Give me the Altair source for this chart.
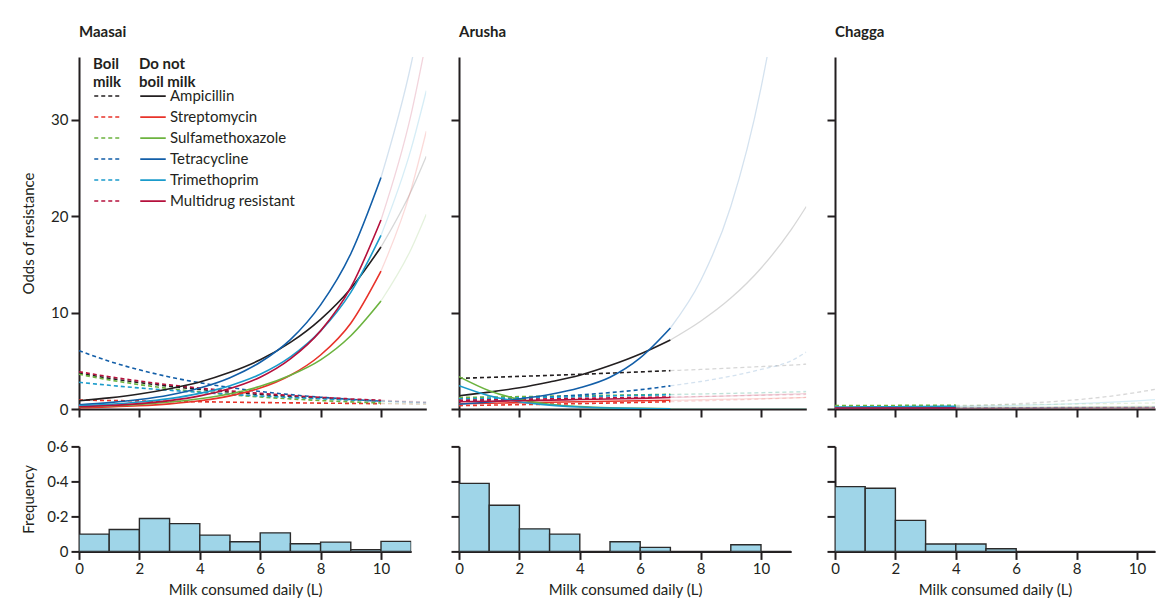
import altair as alt
import pandas as pd

# ---------------- data ----------------
DRUGS = ["Ampicillin", "Streptomycin", "Sulfamethoxazole", "Tetracycline",
         "Trimethoprim", "Multidrug resistant"]
COLORS = ["#231f20", "#e8332a", "#6cb33f", "#125ea8", "#1a9bcb", "#b5103c"]

# x positions (L of milk per day) at which the curves were read
X_GRID = [0, 1, 2, 3, 4, 5, 6, 7, 8, 9, 10, 11, 11.5]

# last observed consumption per group (beyond it curves are faded)
OBS_END = {"Maasai": 10, "Arusha": 7, "Chagga": 4}

# odds of resistance, "Do not boil milk" (solid)
MAASAI_NOBOIL = {
    "Ampicillin":          [0.86, 1.15, 1.55, 2.1, 2.8, 3.8, 5.1, 6.9, 9.3, 12.5, 16.8, 22.6, 26.2],
    "Streptomycin":        [0.13, 0.21, 0.33, 0.53, 0.85, 1.36, 2.17, 3.5, 5.6, 8.9, 14.3, 22.8, 28.8],
    "Sulfamethoxazole":    [0.22, 0.33, 0.48, 0.72, 1.07, 1.58, 2.35, 3.5, 5.1, 7.6, 11.2, 16.6, 20.2],
    "Tetracycline":        [0.44, 0.66, 0.98, 1.46, 2.18, 3.25, 4.85, 7.2, 10.8, 16.1, 24.0, 35.8, 43.7],
    "Trimethoprim":        [0.32, 0.48, 0.72, 1.08, 1.62, 2.42, 3.6, 5.4, 8.1, 12.1, 18.0, 27.0, 33.0],
    "Multidrug resistant": [0.23, 0.36, 0.56, 0.87, 1.36, 2.12, 3.3, 5.2, 8.1, 12.6, 19.6, 30.6, 38.2],
}
# odds of resistance, "Boil milk" (dashed)
MAASAI_BOIL = {
    "Ampicillin":          [3.7, 3.19, 2.74, 2.36, 2.03, 1.75, 1.5, 1.3, 1.12, 0.96, 0.83, 0.71, 0.66],
    "Streptomycin":        [0.93, 0.88, 0.84, 0.79, 0.75, 0.71, 0.67, 0.64, 0.61, 0.58, 0.55, 0.52, 0.5],
    "Sulfamethoxazole":    [3.6, 3.02, 2.53, 2.12, 1.78, 1.49, 1.25, 1.05, 0.88, 0.74, 0.62, 0.52, 0.48],
    "Tetracycline":        [6.05, 4.95, 4.06, 3.32, 2.72, 2.23, 1.82, 1.49, 1.22, 1.0, 0.82, 0.67, 0.61],
    "Trimethoprim":        [2.77, 2.46, 2.18, 1.94, 1.72, 1.52, 1.35, 1.2, 1.06, 0.94, 0.84, 0.74, 0.7],
    "Multidrug resistant": [3.87, 3.35, 2.9, 2.5, 2.17, 1.88, 1.62, 1.4, 1.21, 1.05, 0.91, 0.79, 0.73],
}
ARUSHA_NOBOIL = {
    "Ampicillin":          [1.38, 1.75, 2.2, 2.8, 3.5, 4.5, 5.7, 7.16, 9.1, 11.5, 14.6, 18.6, 21.0],
    "Streptomycin":        [0.55, 0.6, 0.65, 0.7, 0.75, 0.8, 0.85, 0.9, 0.96, 1.02, 1.08, 1.15, 1.2],
    "Sulfamethoxazole":    [3.36, 1.9, 1.0, 0.5, 0.25, 0.12, 0.06, 0.03, 0.015, 0.01, 0.005, 0.003, 0.002],
    "Tetracycline":        [0.5, 0.72, 1.05, 1.5, 2.2, 3.3, 5.3, 8.4, 13.3, 21.0, 33.3, 52.0, 65.0],
    "Trimethoprim":        [2.42, 1.38, 0.76, 0.4, 0.2, 0.1, 0.05, 0.02, 0.01, 0.005, 0.003, 0.002, 0.001],
    "Multidrug resistant": [0.75, 0.8, 0.86, 0.92, 0.98, 1.04, 1.1, 1.2, 1.28, 1.36, 1.45, 1.55, 1.6],
}
ARUSHA_BOIL = {
    "Ampicillin":          [3.18, 3.28, 3.38, 3.49, 3.6, 3.72, 3.85, 3.98, 4.1, 4.25, 4.4, 4.55, 4.65],
    "Streptomycin":        [0.35, 0.4, 0.45, 0.5, 0.56, 0.62, 0.69, 0.76, 0.84, 0.93, 1.03, 1.14, 1.2],
    "Sulfamethoxazole":    [1.2, 1.24, 1.28, 1.33, 1.37, 1.42, 1.47, 1.52, 1.57, 1.62, 1.68, 1.74, 1.77],
    "Tetracycline":        [0.85, 0.95, 1.1, 1.25, 1.45, 1.7, 2.0, 2.4, 2.85, 3.4, 4.1, 5.0, 5.9],
    "Trimethoprim":        [1.05, 1.1, 1.16, 1.22, 1.28, 1.35, 1.42, 1.48, 1.55, 1.62, 1.7, 1.78, 1.82],
    "Multidrug resistant": [0.9, 0.95, 1.0, 1.05, 1.1, 1.15, 1.2, 1.25, 1.3, 1.36, 1.42, 1.48, 1.51],
}
CHAGGA_NOBOIL = {
    "Ampicillin":          [0.05, 0.05, 0.06, 0.06, 0.07, 0.08, 0.09, 0.1, 0.11, 0.12, 0.13, 0.15, 0.16],
    "Streptomycin":        [0.08, 0.09, 0.1, 0.11, 0.12, 0.13, 0.14, 0.15, 0.17, 0.18, 0.2, 0.22, 0.23],
    "Sulfamethoxazole":    [0.15, 0.16, 0.17, 0.18, 0.19, 0.2, 0.21, 0.22, 0.23, 0.25, 0.26, 0.28, 0.29],
    "Tetracycline":        [0.1, 0.1, 0.11, 0.11, 0.12, 0.12, 0.13, 0.13, 0.14, 0.15, 0.15, 0.16, 0.17],
    "Trimethoprim":        [0.2, 0.22, 0.24, 0.26, 0.28, 0.32, 0.38, 0.45, 0.55, 0.68, 0.85, 1.07, 1.2],
    "Multidrug resistant": [0.1, 0.1, 0.1, 0.1, 0.1, 0.1, 0.1, 0.11, 0.11, 0.11, 0.12, 0.12, 0.12],
}
CHAGGA_BOIL = {
    "Ampicillin":          [0.15, 0.18, 0.21, 0.25, 0.3, 0.4, 0.54, 0.72, 0.96, 1.28, 1.72, 2.3, 2.65],
    "Streptomycin":        [0.05, 0.05, 0.06, 0.06, 0.07, 0.08, 0.08, 0.09, 0.1, 0.11, 0.12, 0.13, 0.14],
    "Sulfamethoxazole":    [0.35, 0.36, 0.37, 0.38, 0.4, 0.42, 0.45, 0.48, 0.52, 0.56, 0.6, 0.65, 0.68],
    "Tetracycline":        [0.1, 0.1, 0.11, 0.11, 0.12, 0.13, 0.14, 0.15, 0.16, 0.17, 0.18, 0.2, 0.21],
    "Trimethoprim":        [0.12, 0.13, 0.13, 0.14, 0.15, 0.16, 0.17, 0.18, 0.19, 0.2, 0.22, 0.23, 0.24],
    "Multidrug resistant": [0.08, 0.08, 0.09, 0.09, 0.1, 0.1, 0.11, 0.11, 0.12, 0.13, 0.13, 0.14, 0.15],
}

# histogram of daily milk consumption (1 L bins starting at)
BIN_START = [0, 1, 2, 3, 4, 5, 6, 7, 8, 9, 10]
MAASAI_FREQ = [0.099, 0.125, 0.188, 0.159, 0.093, 0.055, 0.106, 0.044, 0.053, 0.01, 0.057]
ARUSHA_FREQ = [0.389, 0.264, 0.129, 0.099, 0.0, 0.055, 0.023, 0.0, 0.0, 0.038, 0.0]
CHAGGA_FREQ = [0.370, 0.361, 0.177, 0.042, 0.042, 0.015, 0.0, 0.0, 0.0, 0.0, 0.0]

X_TICKS = [0, 2, 4, 6, 8, 10]
ODDS_TICKS = [0, 10, 20, 30]
FREQ_TICKS = [0, 0.2, 0.4, 0.6]

# ---------------- style ----------------
FONT = "Lato"
INK = "#231f20"
PX_PER_L = 30.2
TOP_H = 352
HIST_H = 105
ODDS_MAX = 36.5

color_scale = alt.Scale(domain=DRUGS, range=COLORS)


def curve_frame(noboil, boil, end):
    rows = []
    for cond, table in (("noboil", noboil), ("boil", boil)):
        for drug in DRUGS:
            for xv, yv in zip(X_GRID, table[drug]):
                rows.append({"drug": drug, "cond": cond, "x": xv, "odds": yv,
                             "observed": xv <= end, "faded": xv >= end})
    return pd.DataFrame(rows)


def top_panel(name, noboil, boil, xmax, first):
    df = curve_frame(noboil, boil, OBS_END[name])
    x = alt.X("x:Q", scale=alt.Scale(domain=[0, xmax], nice=False, zero=False),
              axis=alt.Axis(values=X_TICKS, labels=False, title=None))
    y = alt.Y("odds:Q", scale=alt.Scale(domain=[0, ODDS_MAX], nice=False),
              axis=alt.Axis(values=ODDS_TICKS, labels=first,
                            title="Odds of resistance" if first else None,
                            titleX=-43))
    base = alt.Chart(df)

    if first:
        leg_solid = alt.Legend(
            title=["Do not", "boil milk"], orient="none", direction="vertical",
            legendX=60, legendY=0, padding=0, symbolType="stroke", symbolSize=650,
            symbolStrokeWidth=1.8, clipHeight=20.7, rowPadding=0, labelOffset=3,
            titlePadding=-4, titleLineHeight=17.7, titleFontWeight="bold",
            titleFontSize=15, titleFont=FONT, titleColor=INK,
            labelFont=FONT, labelFontSize=15, labelColor=INK)
        leg_dash = alt.Legend(
            title=["Boil", "milk"], orient="none", direction="vertical",
            legendX=14, legendY=0, padding=0, symbolType="stroke", symbolSize=650,
            symbolStrokeWidth=1.6, symbolDash=[4, 3], clipHeight=20.7, rowPadding=0,
            labelExpr="''", titlePadding=-4, titleLineHeight=17.7,
            titleFontWeight="bold", titleFontSize=15, titleFont=FONT, titleColor=INK)
    else:
        leg_solid = None
        leg_dash = None

    faded_solid = base.transform_filter("datum.faded && datum.cond == 'noboil'").mark_line(
        strokeWidth=1.3, opacity=0.18, clip=True, interpolate="monotone").encode(
        x=x, y=y, color=alt.Color("drug:N", scale=color_scale, legend=None))
    faded_dash = base.transform_filter("datum.faded && datum.cond == 'boil'").mark_line(
        strokeWidth=1.3, opacity=0.18, clip=True, strokeDash=[4, 3], interpolate="monotone").encode(
        x=x, y=y, color=alt.Color("drug:N", scale=color_scale, legend=None))
    dash = base.transform_filter("datum.observed && datum.cond == 'boil'").mark_line(
        strokeWidth=1.6, clip=True, strokeDash=[4, 3], interpolate="monotone").encode(
        x=x, y=y, color=alt.Color("drug:N", scale=color_scale, legend=leg_dash))
    solid = base.transform_filter("datum.observed && datum.cond == 'noboil'").mark_line(
        strokeWidth=1.6, clip=True, interpolate="monotone").encode(
        x=x, y=y, color=alt.Color("drug:N", scale=color_scale, legend=leg_solid))

    return alt.layer(faded_solid, faded_dash, dash, solid).resolve_scale(
        color="independent").properties(
        width=xmax * PX_PER_L, height=TOP_H,
        title=alt.TitleParams(name, anchor="start", frame="group", font=FONT,
                              fontSize=15, fontWeight="bold", color=INK, offset=17))


def hist_panel(freq, xmax, first):
    df = pd.DataFrame({"start": BIN_START, "end": [b + 1 for b in BIN_START], "freq": freq})
    return alt.Chart(df).mark_bar(fill="#9fd5e8", stroke="#2b2b2b", strokeWidth=1.4,
                                  clip=True).encode(
        x=alt.X("start:Q", scale=alt.Scale(domain=[0, xmax], nice=False, zero=False),
                axis=alt.Axis(values=X_TICKS, title="Milk consumed daily (L)",
                              labelPadding=2, titlePadding=6)),
        x2="end:Q",
        y=alt.Y("freq:Q", scale=alt.Scale(domain=[0, 0.6], nice=False),
                axis=alt.Axis(values=FREQ_TICKS, labels=first,
                              labelExpr="replace(format(datum.value, '~g'), '.', '·')",
                              title="Frequency" if first else None, titleX=-43)),
        y2=alt.datum(0),
    ).properties(width=xmax * PX_PER_L, height=HIST_H)


def column(name, noboil, boil, freq, xmax, hxmax, first):
    return alt.vconcat(top_panel(name, noboil, boil, xmax, first),
                       hist_panel(freq, hxmax, first), spacing=37.4, bounds="flush")


left_pair = alt.hconcat(
    column("Maasai", MAASAI_NOBOIL, MAASAI_BOIL, MAASAI_FREQ, 11.5, 11, True),
    column("Arusha", ARUSHA_NOBOIL, ARUSHA_BOIL, ARUSHA_FREQ, 11.5, 11, False),
    spacing=23,
)

chart = alt.hconcat(
    left_pair,
    column("Chagga", CHAGGA_NOBOIL, CHAGGA_BOIL, CHAGGA_FREQ, 10.6, 10.6, False),
    spacing=19,
).properties(
    padding={"left": 12, "top": 17, "right": 0, "bottom": 0}
).configure_view(stroke=None).configure_axis(
    grid=False, domainColor=INK, domainWidth=2, tickColor=INK, tickWidth=2, tickSize=8,
    labelFont=FONT, labelFontSize=15, labelColor=INK, labelPadding=3, labelFlush=False,
    titleFont=FONT, titleFontSize=15, titleFontWeight="normal", titleColor=INK,
)

chart.save("out.html", embed_options={"renderer": "svg", "actions": False})
